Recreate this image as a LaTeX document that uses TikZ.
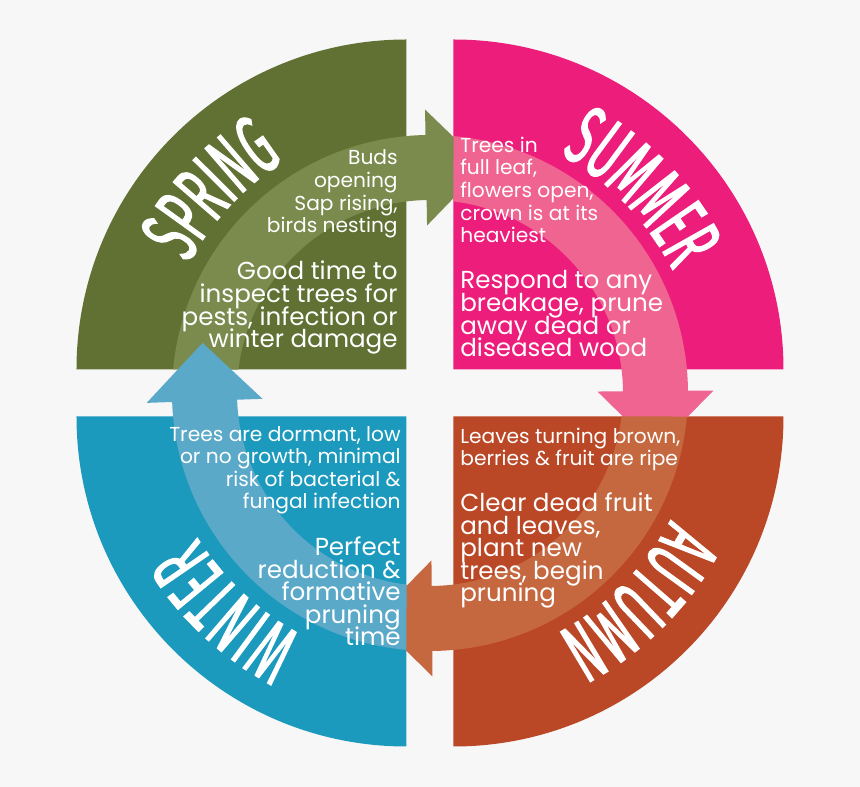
\documentclass[tikz,border=0pt]{standalone}
\usepackage{fontspec}
\usetikzlibrary{calc,decorations.text}
\newfontfamily\bodyfont{Poppins}
\newfontfamily\titlefont[FakeStretch=0.5,FakeBold=1.5]{Fira Sans}
\definecolor{pagegrey}{HTML}{F7F7F7}
\definecolor{springgreen}{HTML}{607133}
\definecolor{springlight}{HTML}{7B8A4D}
\definecolor{summerpink}{HTML}{ED1E7B}
\definecolor{summerlight}{HTML}{EF6491}
\definecolor{autumnred}{HTML}{BA4726}
\definecolor{autumnlight}{HTML}{C5683F}
\definecolor{winterblue}{HTML}{1C9ABE}
\definecolor{winterlight}{HTML}{5BA9C8}
\setlength{\lineskiplimit}{-20pt}
\begin{document}
\begin{tikzpicture}[x=0.02cm,y=0.02cm,
  smalltext/.style={text=white,inner sep=0pt,font=\bodyfont\fontsize{11.5}{12.9}\selectfont},
  bigtext/.style={text=white,inner sep=0pt,font=\bodyfont\fontsize{14}{12.9}\selectfont},
  seasontitle/.style={decorate,decoration={text along path,text align=center,
    text={|\titlefont\fontsize{48}{48}\selectfont\color{white}|#1}}}]
\fill[pagegrey] (-430,-394) rectangle (430,393);
\fill[springgreen] (-23.5,23.5) -- (-353.5,23.5) arc[start angle=180,end angle=90,radius=330] -- cycle;
\fill[summerpink] (23.5,23.5) -- (23.5,353.5) arc[start angle=90,end angle=0,radius=330] -- cycle;
\fill[autumnred] (23.5,-23.5) -- (353.5,-23.5) arc[start angle=0,end angle=-90,radius=330] -- cycle;
\fill[winterblue] (-23.5,-23.5) -- (-23.5,-353.5) arc[start angle=-90,end angle=-180,radius=330] -- cycle;
\fill[springlight] (174.77:258) arc[start angle=174.77,end angle=91,radius=258] -- (91:283.5)
  -- ($(91:225.5)+(1:58)$) -- (91:167.5) -- (91:193) arc[start angle=91,end angle=173.01,radius=193] -- cycle;
\fill[summerlight] (84.77:258) arc[start angle=84.77,end angle=0.5,radius=258] -- (0.5:283.5)
  -- ($(0.5:225.5)+(-89.5:58)$) -- (0.5:167.5) -- (0.5:193) arc[start angle=0.5,end angle=83.01,radius=193] -- cycle;
\fill[autumnlight] (-5.23:258) arc[start angle=-5.23,end angle=-89.5,radius=258] -- (-89.5:283.5)
  -- ($(-89.5:225.5)+(-179.5:58)$) -- (-89.5:167.5) -- (-89.5:193) arc[start angle=-89.5,end angle=-6.99,radius=193] -- cycle;
\fill[winterlight] (-95.23:258) arc[start angle=-95.23,end angle=-178,radius=258] -- (-178:283.5)
  -- ($(-178:225.5)+(92:58)$) -- (-178:167.5) -- (-178:193) arc[start angle=-178,end angle=-96.99,radius=193] -- cycle;
\path[seasontitle=SPRING] (182:274) arc[start angle=182,end angle=92,radius=274];
\path[seasontitle=SUMMER] (89:272) arc[start angle=89,end angle=-1,radius=272];
\path[seasontitle=AUTUMN] (0:272) arc[start angle=0,end angle=-90,radius=272];
\path[seasontitle=WINTER] (-88:274) arc[start angle=-88,end angle=-178,radius=274];
\node[smalltext,align=right,anchor=base east] (springnote) at (-32,160) {Buds\\opening\\Sap rising,\\birds nesting};
\node[bigtext,align=right,anchor=base east] (springtip) at (-32,45) {Good time to\\inspect trees for\\pests, infection or\\winter damage};
\node[smalltext,align=left,anchor=base west] (summernote) at (30,150) {Trees in\\full leaf,\\flowers open,\\crown is at its\\heaviest};
\node[bigtext,align=left,anchor=base west] (summertip) at (30,36) {Respond to any\\breakage, prune\\away dead or\\diseased wood};
\node[smalltext,align=left,anchor=base west] (autumnnote) at (30,-73) {Leaves turning brown,\\berries \& fruit are ripe};
\node[bigtext,align=left,anchor=base west] (autumntip) at (30,-209) {Clear dead fruit\\and leaves,\\plant new\\trees, begin\\pruning};
\node[smalltext,align=right,anchor=base east] (winternote) at (-29,-116) {Trees are dormant, low\\or no growth, minimal\\risk of bacterial \&\\fungal infection};
\node[bigtext,align=right,anchor=base east] (wintertip) at (-29,-253) {Perfect\\reduction \&\\formative\\pruning\\time};
\end{tikzpicture}
\end{document}
